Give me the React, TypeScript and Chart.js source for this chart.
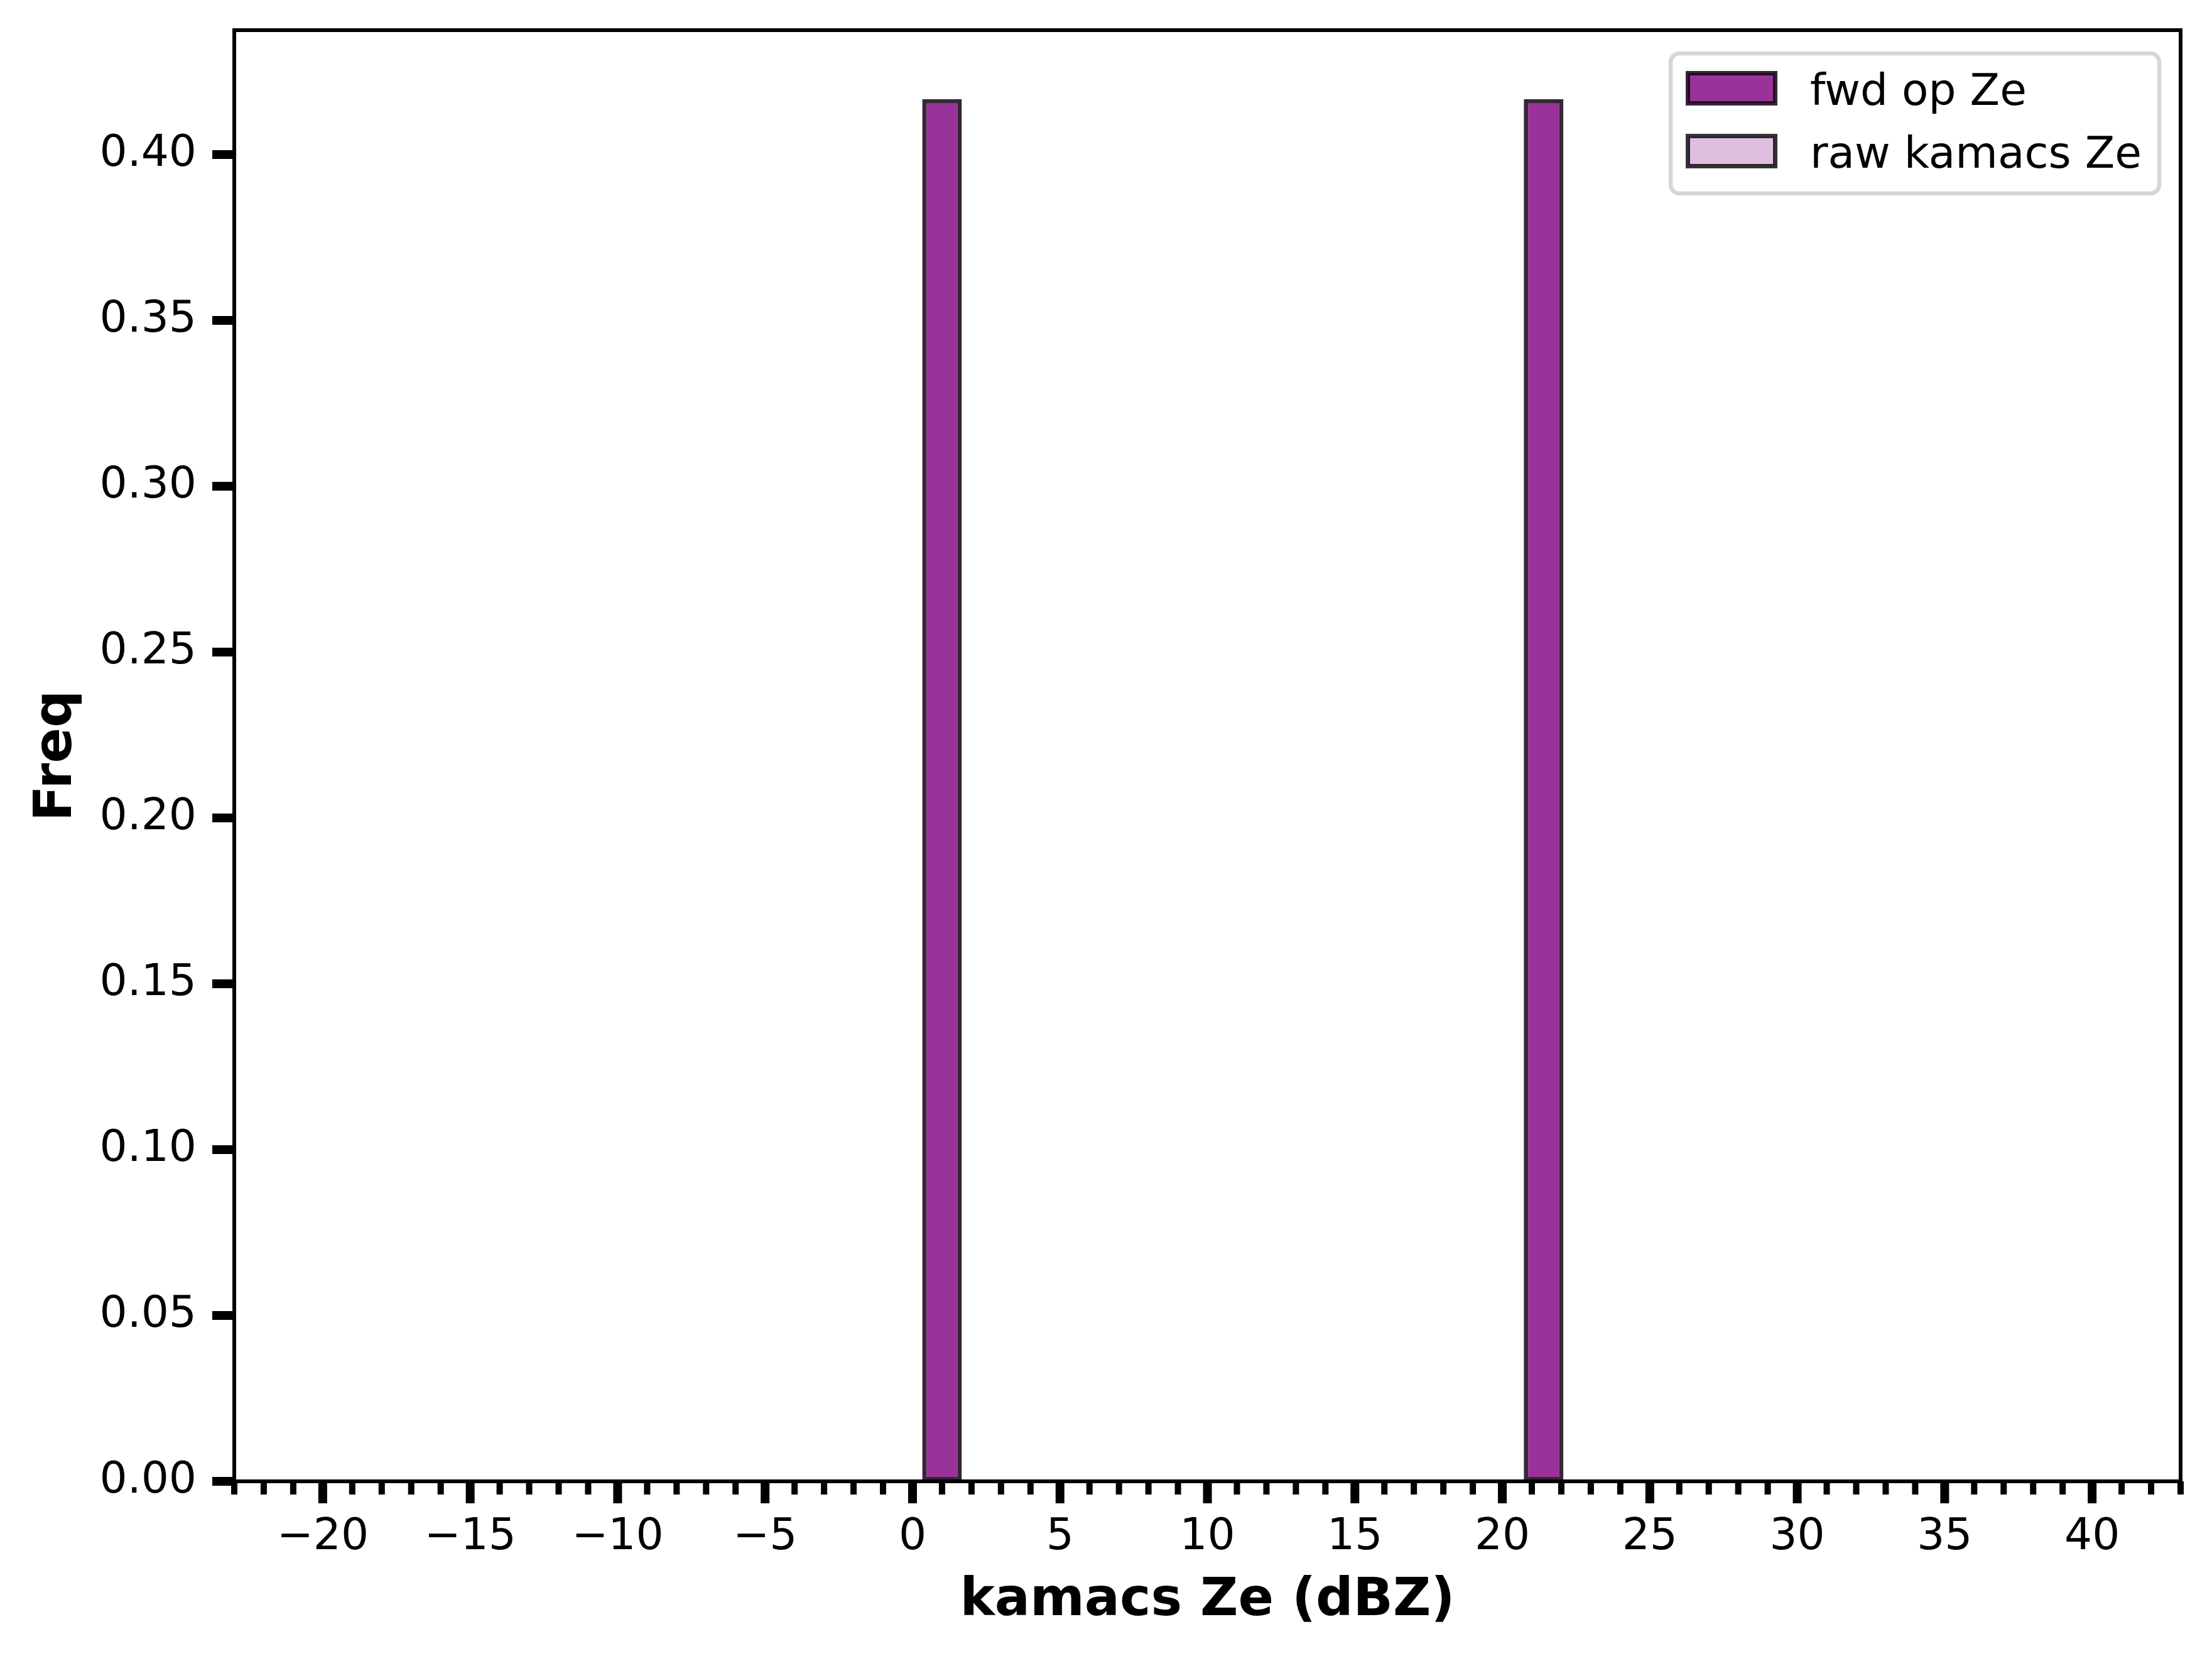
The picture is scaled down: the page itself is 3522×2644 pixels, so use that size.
import { useEffect, useRef } from "react";
import { Chart, registerables } from "chart.js";

Chart.register(...registerables);

const W = 3522;
const H = 2644;
const FONT = "DejaVu Sans";

// histogram bins: 50 bins of 1.2 dBZ from -20 to 40
const binStart = -20;
const binWidth = 1.2;
const binCount = 50;

const fwdFreq = [
  0, 0, 0, 0, 0, 0, 0, 0, 0, 0,
  0, 0, 0, 0, 0, 0, 0, 0.4167, 0, 0,
  0, 0, 0, 0, 0, 0, 0, 0, 0, 0,
  0, 0, 0, 0, 0.4167, 0, 0, 0, 0, 0,
  0, 0, 0, 0, 0, 0, 0, 0, 0, 0,
];

const rawFreq = [
  0, 0, 0, 0, 0, 0, 0, 0, 0, 0,
  0, 0, 0, 0, 0, 0, 0, 0, 0, 0,
  0, 0, 0, 0, 0, 0, 0, 0, 0, 0,
  0, 0, 0, 0, 0, 0, 0, 0, 0, 0,
  0, 0, 0, 0, 0, 0, 0, 0, 0, 0,
];

const xTicks = [-20, -15, -10, -5, 0, 5, 10, 15, 20, 25, 30, 35, 40];
const yTicks = [0, 0.05, 0.1, 0.15, 0.2, 0.25, 0.3, 0.35, 0.4];
const xMin = -23;
const xMax = 43;
const yMax = 0.4375;

const binCenters = Array.from({ length: binCount }, (_, i) => binStart + binWidth * (i + 0.5));

const fmtX = (v: number) => (v < 0 ? "\u2212" + Math.abs(v) : String(v));

// spines, tick marks and the matplotlib-style legend
const axesPlugin = {
  id: "axesDecor",
  afterDatasetsDraw(chart: any) {
    const { ctx, chartArea: a, scales } = chart;
    const x = scales.x;
    const y = scales.y;
    ctx.save();

    ctx.strokeStyle = "#000";
    ctx.lineWidth = 6;
    ctx.strokeRect(a.left, a.top, a.right - a.left, a.bottom - a.top);

    ctx.fillStyle = "#000";
    // x minor ticks every 1 dBZ
    for (let v = Math.ceil(xMin); v <= xMax; v++) {
      if (v % 5 === 0) continue;
      const px = x.getPixelForValue(v);
      ctx.fillRect(px - 5, a.bottom, 10, 21);
    }
    xTicks.forEach((v) => {
      const px = x.getPixelForValue(v);
      ctx.fillRect(px - 7, a.bottom, 14, 35);
    });
    yTicks.forEach((v) => {
      const py = y.getPixelForValue(v);
      ctx.fillRect(a.left - 35, py - 7, 35, 14);
    });

    // legend
    const fr = a.right - 34;
    const ft = a.top + 37;
    const fw = 778;
    const fh = 223;
    const fl = fr - fw;
    ctx.beginPath();
    ctx.roundRect(fl, ft, fw, fh, 14);
    ctx.fillStyle = "rgba(255,255,255,0.8)";
    ctx.fill();
    ctx.lineWidth = 6.5;
    ctx.strokeStyle = "rgba(204,204,204,0.8)";
    ctx.stroke();

    ctx.font = `69.4px "${FONT}"`;
    ctx.textAlign = "left";
    ctx.textBaseline = "alphabetic";
    chart.data.datasets.forEach((ds: any, i: number) => {
      const cy = ft + 55.5 + i * 100;
      const hx = fl + 27.5;
      ctx.fillStyle = ds.backgroundColor;
      ctx.fillRect(hx, cy - 24, 139, 48);
      ctx.lineWidth = 7;
      ctx.strokeStyle = ds.borderColor;
      ctx.strokeRect(hx, cy - 24, 139, 48);
      ctx.fillStyle = "#000";
      ctx.fillText(ds.label, fl + 222, ft + 82 + i * 100);
    });

    ctx.restore();
  },
};

export default function App() {
  const canvasRef = useRef<HTMLCanvasElement | null>(null);

  useEffect(() => {
    if (!canvasRef.current) return;

    const chart = new Chart(canvasRef.current, {
      type: "bar",
      data: {
        datasets: [
          {
            label: "fwd op Ze",
            data: binCenters.map((x, i) => ({ x, y: fwdFreq[i] })),
            backgroundColor: "rgba(128,0,128,0.8)",
            borderColor: "rgba(20,0,20,0.85)",
          },
          {
            label: "raw kamacs Ze",
            data: binCenters.map((x, i) => ({ x, y: rawFreq[i] })),
            backgroundColor: "rgba(128,0,128,0.25)",
            borderColor: "rgba(0,0,0,0.8)",
          },
        ],
      } as any,
      options: {
        animation: false,
        responsive: false,
        devicePixelRatio: 1,
        layout: { padding: { left: 0, right: 50, top: 48, bottom: 0 } },
        datasets: {
          bar: {
            grouped: false,
            borderWidth: 7,
            borderSkipped: false,
            barPercentage: 1.12,
            categoryPercentage: 1,
          },
        },
        plugins: {
          legend: { display: false },
          tooltip: { enabled: false },
        },
        scales: {
          x: {
            type: "linear",
            min: xMin,
            max: xMax,
            offset: false,
            grid: { display: false, drawTicks: false },
            border: { display: false },
            afterBuildTicks: (s: any) => {
              s.ticks = xTicks.map((value) => ({ value }));
            },
            afterFit: (s: any) => {
              s.height = 286;
              s.paddingLeft = 0;
              s.paddingRight = 0;
            },
            ticks: {
              autoSkip: false,
              maxRotation: 0,
              padding: 48,
              color: "#000",
              font: { family: FONT, size: 69.4, lineHeight: 1.2 },
              callback: (v: any) => fmtX(Number(v)),
            },
            title: {
              display: true,
              text: "kamacs Ze (dBZ)",
              color: "#000",
              font: { family: FONT, size: 83.3, weight: "bold", lineHeight: 1 },
              padding: { top: 0, bottom: 53 },
            },
          },
          y: {
            type: "linear",
            min: 0,
            max: yMax,
            grid: { display: false, drawTicks: false },
            border: { display: false },
            afterBuildTicks: (s: any) => {
              s.ticks = yTicks.map((value) => ({ value }));
            },
            afterFit: (s: any) => {
              s.width = 373;
              s.paddingTop = 0;
              s.paddingBottom = 0;
            },
            ticks: {
              padding: 60,
              color: "#000",
              font: { family: FONT, size: 69.4, lineHeight: 1.2 },
              callback: (v: any) => Number(v).toFixed(2),
            },
            title: {
              display: true,
              text: "Freq",
              color: "#000",
              font: { family: FONT, size: 83.3, weight: "bold", lineHeight: 1 },
              padding: { top: 50, bottom: 0 },
            },
          },
        },
      } as any,
      plugins: [axesPlugin],
    });

    return () => chart.destroy();
  }, []);

  return (
    <div style={{ position: "absolute", left: 0, top: 0, width: W, height: H, background: "#fff" }}>
      <canvas ref={canvasRef} width={W} height={H} style={{ width: W, height: H, display: "block" }} />
    </div>
  );
}
